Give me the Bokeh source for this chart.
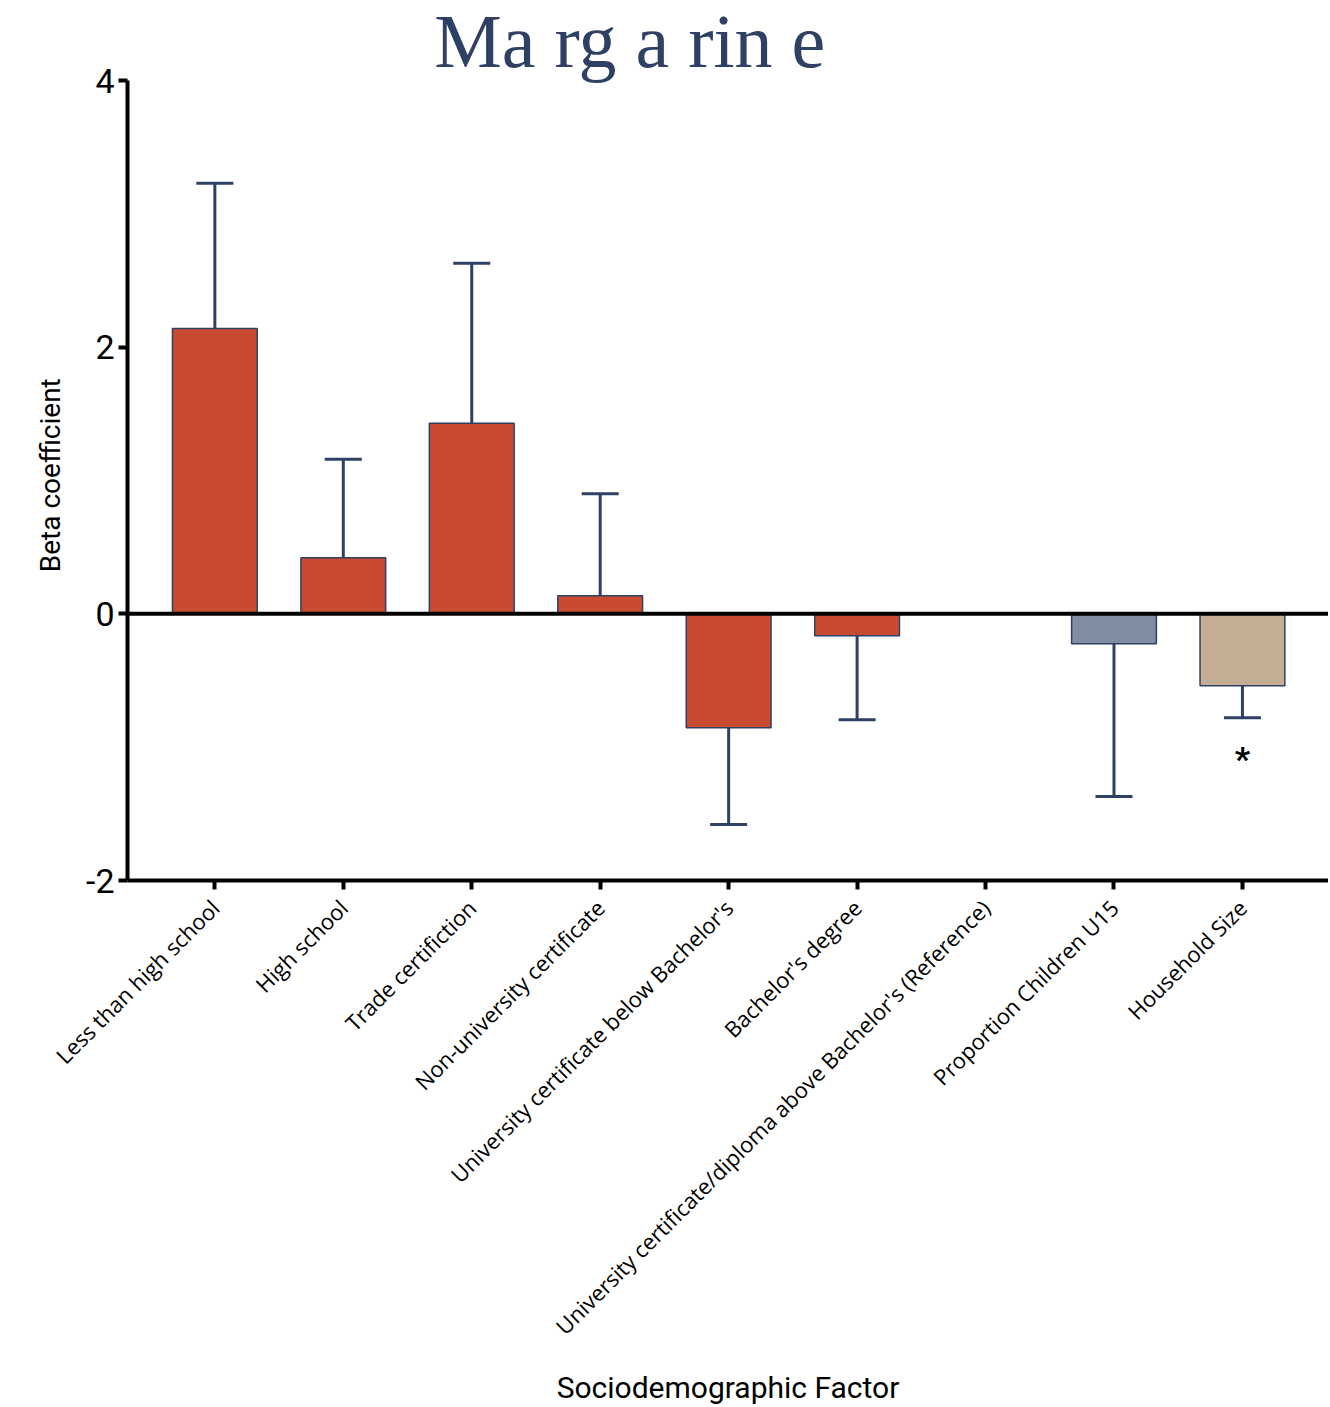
from bokeh.plotting import figure
from bokeh.models import Range1d, FixedTicker, Span, Whisker, TeeHead, ColumnDataSource, Label
from bokeh.embed import file_html
from bokeh.resources import INLINE
from bokeh.core.properties import value

categories = [
    "Less than high school",
    "High school",
    "Trade certifiction",
    "Non-university certificate",
    "University certificate below Bachelor's",
    "Bachelor's degree",
    "University certificate/diploma above Bachelor's (Reference)",
    "Proportion Children U15",
    "Household Size",
]
beta = [2.14, 0.42, 1.43, 0.135, -0.855, -0.165, 0.0, -0.225, -0.54]
err_end = [3.23, 1.16, 2.63, 0.90, -1.58, -0.795, None, -1.37, -0.78]
groups = ["education"] * 7 + ["children", "household"]
significance = ["", "", "", "", "", "", "", "", "*"]
y_ticks = [-2, 0, 2, 4]
y_tick_labels = ["-2", "0", "2", "4"]
y_min, y_max = -2, 4

group_colors = {"education": "#C84B31", "children": "#7F8CA2", "household": "#C4AD95"}
EDGE = "#2E4164"

xs = list(range(len(categories)))
src = ColumnDataSource(dict(
    x=xs, top=beta, bottom=[0] * len(beta),
    color=[group_colors[g] for g in groups],
))

# the y range extends above the axis so the title can sit inside the frame
p = figure(width=1328, height=1407, x_range=Range1d(-0.68, 8.67), y_range=Range1d(y_min, y_max + 0.6),
           output_backend="svg", toolbar_location=None,
           min_border_left=127, min_border_top=0, min_border_right=0, min_border_bottom=527)
p.outline_line_color = None
p.xgrid.visible = False
p.ygrid.visible = False
p.background_fill_color = "white"

p.vbar(x="x", top="top", bottom="bottom", width=0.66, source=src,
       fill_color="color", line_color=EDGE, line_width=1.5)

pos = [i for i in xs if err_end[i] is not None and beta[i] >= 0]
neg = [i for i in xs if err_end[i] is not None and beta[i] < 0]
src_pos = ColumnDataSource(dict(x=pos, lower=[beta[i] for i in pos], upper=[err_end[i] for i in pos]))
src_neg = ColumnDataSource(dict(x=neg, lower=[err_end[i] for i in neg], upper=[beta[i] for i in neg]))
p.add_layout(Whisker(source=src_pos, base="x", lower="lower", upper="upper",
                     line_color=EDGE, line_width=3, lower_head=None,
                     upper_head=TeeHead(size=37, line_color=EDGE, line_width=3)))
p.add_layout(Whisker(source=src_neg, base="x", lower="lower", upper="upper",
                     line_color=EDGE, line_width=3, upper_head=None,
                     lower_head=TeeHead(size=37, line_color=EDGE, line_width=3)))

p.add_layout(Span(location=0, dimension="width", line_color="black", line_width=4))

sig_x = [i for i in xs if significance[i]]
sig_src = ColumnDataSource(dict(x=sig_x, y=[err_end[i] - 0.455 for i in sig_x], t=[significance[i] for i in sig_x]))
p.text(x="x", y="y", text="t", source=sig_src, text_align="center", text_baseline="bottom",
       text_font=value("Roboto"), text_font_size="34px", text_font_style="bold", text_color="black")

p.add_layout(Label(x=3.23, y=4.3, text="Ma rg a rin e", text_align="center", text_baseline="alphabetic",
                   text_font="Liberation Serif", text_font_size="76px", text_color="#2E4164"))

p.xaxis.ticker = FixedTicker(ticks=xs)
p.xaxis.major_label_overrides = {i: c for i, c in enumerate(categories)}
p.xaxis.major_label_orientation = 0.785398
p.xaxis.major_label_text_font = "Open Sans"
p.xaxis.major_label_text_font_size = "22px"
p.xaxis.major_label_text_color = "black"
p.xaxis.major_label_standoff = 14
p.xaxis.axis_label = "Sociodemographic Factor"
p.xaxis.axis_label_text_font = "Roboto"
p.xaxis.axis_label_text_font_size = "30px"
p.xaxis.axis_label_text_font_style = "normal"
p.xaxis.axis_label_text_color = "black"
p.xaxis.axis_label_standoff = 16

p.yaxis.ticker = FixedTicker(ticks=y_ticks)
p.yaxis.major_label_overrides = dict(zip(y_ticks, y_tick_labels))
p.yaxis.bounds = (y_min, y_max)
p.yaxis.major_label_text_font = "Roboto"
p.yaxis.major_label_text_font_size = "34px"
p.yaxis.major_label_text_color = "black"
p.yaxis.major_label_standoff = 4
# trailing no-break spaces centre the label on the drawn axis (-2..4) rather than the taller frame
p.yaxis.axis_label = "Beta coefficient" + "\u00a0" * 10
p.yaxis.axis_label_text_font = "Roboto"
p.yaxis.axis_label_text_font_size = "28px"
p.yaxis.axis_label_text_font_style = "normal"
p.yaxis.axis_label_text_color = "black"
p.yaxis.axis_label_standoff = 16

for ax in (p.xaxis, p.yaxis):
    ax.axis_line_width = 4
    ax.axis_line_color = "black"
    ax.major_tick_line_width = 4
    ax.major_tick_line_color = "black"
    ax.major_tick_out = 9
    ax.major_tick_in = 0
    ax.minor_tick_line_color = None

open("out.html", "w").write(file_html(p, INLINE))
